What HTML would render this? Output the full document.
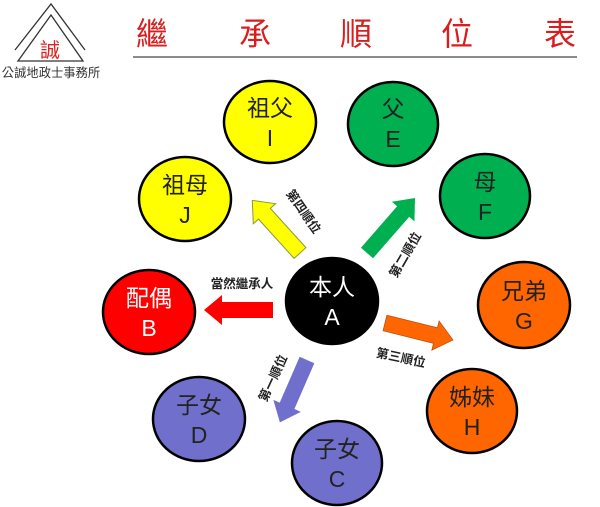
<!DOCTYPE html>
<html><head><meta charset="utf-8"><style>
html,body{margin:0;padding:0;background:#fff;}
svg{display:block;font-family:"Liberation Sans","Noto Sans CJK TC",sans-serif;}
</style></head><body>
<svg width="600" height="507" viewBox="0 0 600 507" xmlns="http://www.w3.org/2000/svg">
<!-- logo -->
<polyline points="15,50 51,4 85,50" fill="none" stroke="#333" stroke-width="1.3"/>
<polygon points="18,61 51,15 83,61" fill="none" stroke="#333" stroke-width="1.3"/>
<text x="50" y="57" font-size="20" fill="#d22" text-anchor="middle">誠</text>
<text x="51" y="77" font-size="12.3" fill="#333" text-anchor="middle">公誠地政士事務所</text>
<!-- title -->
<g font-size="32" fill="#d81e1e" text-anchor="middle">
<text x="152" y="45">繼</text><text x="255" y="45">承</text><text x="356" y="45">順</text><text x="457" y="45">位</text><text x="560" y="45">表</text>
</g>
<line x1="133" y1="57" x2="577" y2="57" stroke="#666" stroke-width="1.5"/>
<!-- circles -->
<g stroke="#000" stroke-width="2.5">
<ellipse cx="270" cy="122" rx="46" ry="41" fill="#ffff00"/>
<ellipse cx="393" cy="124" rx="45" ry="42" fill="#00b050"/>
<ellipse cx="185" cy="199" rx="46" ry="42" fill="#ffff00"/>
<ellipse cx="485" cy="196" rx="45" ry="42" fill="#00b050"/>
<ellipse cx="332" cy="301" rx="46" ry="43" fill="#000"/>
<ellipse cx="149" cy="312" rx="46" ry="42" fill="#ff0000"/>
<ellipse cx="524" cy="305" rx="46" ry="43" fill="#ff6600"/>
<ellipse cx="472" cy="411" rx="45" ry="42" fill="#ff6600"/>
<ellipse cx="199" cy="419" rx="46" ry="42" fill="#7070cc"/>
<ellipse cx="337" cy="463" rx="45" ry="42" fill="#7070cc"/>
</g>
<g font-size="23" text-anchor="middle" fill="#222">
<text x="270" y="116">祖父</text><text x="270" y="146">I</text>
<text x="393" y="117">父</text><text x="393" y="147">E</text>
<text x="185" y="193">祖母</text><text x="185" y="223">J</text>
<text x="485" y="190">母</text><text x="485" y="220">F</text>
<text x="524" y="299">兄弟</text><text x="524" y="329">G</text>
<text x="472" y="405">姊妹</text><text x="472" y="435">H</text>
<text x="199" y="413">子女</text><text x="199" y="443">D</text>
<text x="337" y="457">子女</text><text x="337" y="487">C</text>
</g>
<g font-size="23" text-anchor="middle" fill="#fff">
<text x="332" y="295">本人</text><text x="332" y="325">A</text>
<text x="149" y="306">配偶</text><text x="149" y="336">B</text>
</g>
<!-- arrows -->
<g transform="translate(300,253) rotate(-132.2)"><polygon points="0,-8 53,-8 53,-15 71,0 53,15 53,8 0,8" fill="#ffff00" stroke="#8a9a3a" stroke-width="1"/></g>
<g transform="translate(367,253) rotate(-48.9)"><polygon points="0,-8 55,-8 55,-15 73,0 55,15 55,8 0,8" fill="#00b050"/></g>
<g transform="translate(273,310) rotate(180)"><polygon points="0,-8 51,-8 51,-15 69,0 51,15 51,8 0,8" fill="#ff0000"/></g>
<g transform="translate(385,323) rotate(14)"><polygon points="0,-8 52,-8 52,-15 70,0 52,15 52,8 0,8" fill="#ff6600" stroke="#c05010" stroke-width="0.8"/></g>
<g transform="translate(307,360) rotate(113.5)"><polygon points="0,-8 50,-8 50,-15 68,0 50,15 50,8 0,8" fill="#7070cc"/></g>
<!-- arrow labels -->
<g font-size="12.5" font-weight="bold" fill="#222" text-anchor="middle">
<text x="242" y="288">當然繼承人</text>
<text transform="translate(300,214) rotate(55)">第四順位</text>
<text transform="translate(409,257) rotate(-60)">第二順位</text>
<text transform="translate(400,362) rotate(12)">第三順位</text>
<text transform="translate(277,380) rotate(-65)">第一順位</text>
</g>
</svg>
</body></html>
